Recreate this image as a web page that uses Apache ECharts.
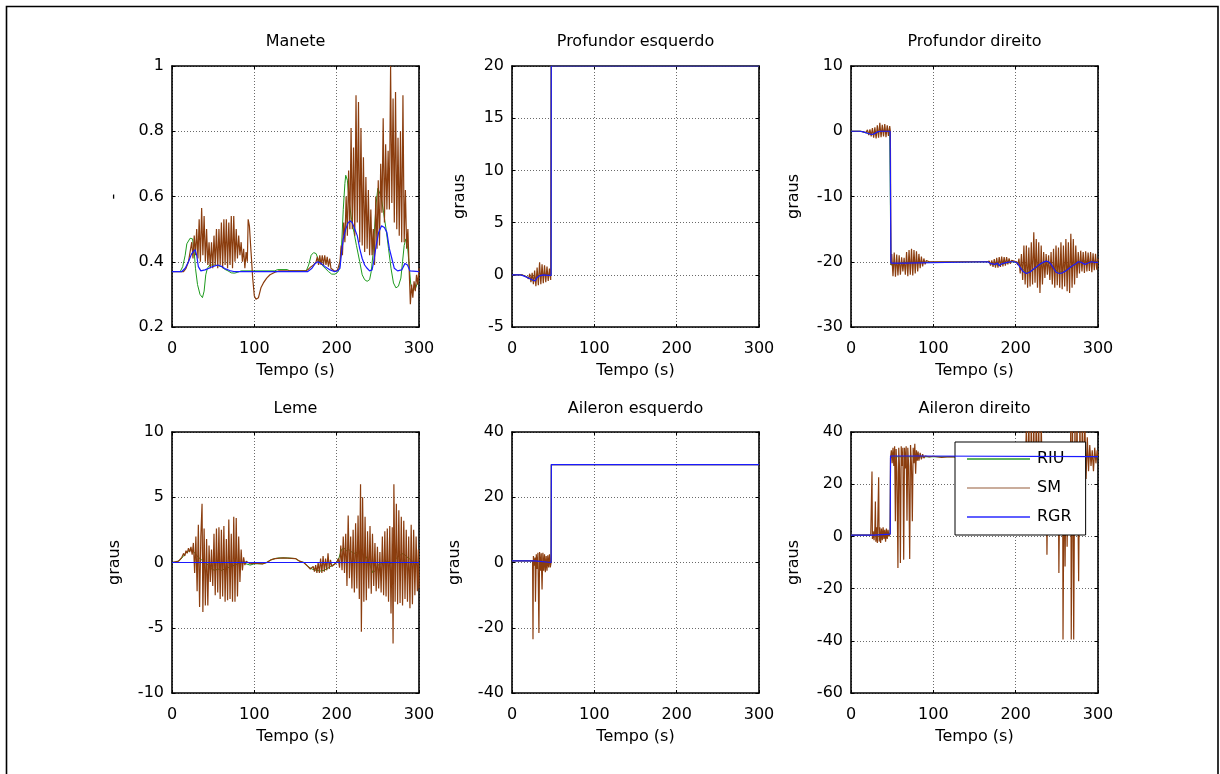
<!DOCTYPE html>
<html><head><meta charset="utf-8">
<script src="https://cdn.jsdelivr.net/npm/echarts@6/dist/echarts.min.js"></script>
<style>html,body{margin:0;padding:0;background:#fff}#c{width:1220px;height:774px}</style>
</head><body><div id="c"></div>
<script>
// ---------------- DATA (time in s, value) ----------------
const titles = ['Manete', 'Profundor esquerdo', 'Profundor direito', 'Leme', 'Aileron esquerdo', 'Aileron direito'];
const yNames = ['-', 'graus', 'graus', 'graus', 'graus', 'graus'];
const yMins = [0.2, -5, -30, -10, -40, -60];
const yMaxs = [1, 20, 10, 10, 40, 40];
const yIntervals = [0.2, 5, 10, 5, 20, 20];
const xMin = 0, xMax = 300, xInterval = 100;
const xName = 'Tempo (s)';
const seriesNames = ['RIU', 'SM', 'RGR'];

const maneteRIU = [[0,0.37],[10,0.37],[13,0.385],[16,0.42],[18,0.455],[22,0.472],[25,0.47],[27,0.43],[28.5,0.38],[31,0.33],[34,0.3],[37,0.29],[39,0.31],[41,0.36],[43,0.38],[46,0.39],[52,0.39],[56,0.388],[60,0.385],[64,0.377],[68,0.372],[72,0.366],[76,0.365],[80,0.368],[84,0.372],[125,0.372],[128,0.376],[140,0.376],[143,0.372],[163,0.372],[166,0.39],[169,0.42],[172,0.428],[175,0.425],[178,0.405],[182,0.39],[186,0.38],[190,0.37],[194,0.362],[198,0.362],[202,0.37],[204,0.39],[206,0.45],[208,0.56],[210,0.64],[211,0.665],[213,0.65],[215,0.59],[218,0.53],[221,0.49],[224,0.45],[228,0.4],[231,0.36],[234,0.345],[237,0.34],[240,0.345],[242,0.37],[244,0.42],[246,0.5],[248,0.58],[250,0.625],[252,0.63],[254,0.6],[257,0.55],[260,0.5],[263,0.44],[266,0.38],[269,0.335],[272,0.32],[275,0.325],[278,0.35],[280,0.4],[282,0.45],[284,0.47],[286,0.45],[288,0.39],[290,0.33],[292,0.31],[294,0.305],[296,0.32],[298,0.335],[300,0.34]];
const maneteSM = [[0,0.37],[14,0.37],[17,0.38],[20,0.4],[22,0.43],[24,0.46],[25.5,0.41],[27,0.48],[28.5,0.42],[30,0.5],[31.5,0.41],[33,0.53],[34.5,0.4],[36,0.565],[37.5,0.42],[39,0.54],[40.5,0.4],[42,0.5],[43.5,0.39],[45,0.46],[46.5,0.38],[48,0.46],[49.5,0.38],[51,0.48],[52.5,0.39],[54,0.5],[55.5,0.38],[57,0.5],[58.5,0.39],[60,0.52],[61.5,0.38],[63,0.53],[64.5,0.39],[66,0.53],[67.5,0.38],[69,0.52],[70.5,0.39],[72,0.54],[73.5,0.38],[75,0.54],[76.5,0.4],[78,0.5],[79.5,0.41],[81,0.48],[82.5,0.42],[84,0.46],[85.5,0.4],[87,0.44],[88.5,0.38],[90,0.43],[91.5,0.4],[92.5,0.53],[94,0.51],[96,0.43],[98,0.35],[100,0.295],[102,0.285],[105,0.29],[108,0.32],[111,0.335],[115,0.35],[119,0.36],[125,0.368],[130,0.372],[163,0.372],[166,0.378],[169,0.385],[172,0.39],[175,0.4],[176.5,0.415],[178,0.39],[179.5,0.42],[181,0.39],[182.5,0.42],[184,0.39],[185.5,0.42],[187,0.39],[188.5,0.415],[190,0.385],[191.5,0.41],[193,0.38],[195,0.375],[198,0.37],[201,0.375],[203,0.38],[204,0.4],[205.5,0.45],[207,0.42],[208.5,0.52],[210,0.46],[211.5,0.6],[213,0.48],[214.5,0.68],[216,0.5],[217.5,0.81],[219,0.5],[220.5,0.75],[222,0.48],[223.5,0.91],[225,0.52],[226.5,0.89],[228,0.46],[229.5,0.81],[231,0.45],[232.5,0.72],[234,0.43],[235.5,0.66],[237,0.44],[238.5,0.62],[240,0.42],[241.5,0.56],[243,0.42],[244.5,0.5],[246,0.39],[247.5,0.6],[249,0.44],[250.5,0.65],[252,0.45],[253.5,0.7],[255,0.55],[256.5,0.84],[258,0.52],[259.5,0.76],[261,0.56],[262.5,0.74],[264,0.56],[265.5,1.0],[267,0.58],[268.5,0.9],[270,0.52],[271.5,0.92],[273,0.5],[274.5,0.78],[276,0.48],[277.5,0.8],[279,0.46],[280.5,0.91],[282,0.46],[283.5,0.62],[285,0.44],[286.5,0.5],[288,0.38],[289.5,0.27],[291,0.33],[292.5,0.29],[294,0.34],[295.5,0.31],[297,0.36],[298.5,0.33],[300,0.38]];
const maneteRGR = [[0,0.37],[12,0.37],[16,0.38],[20,0.4],[24,0.425],[28,0.437],[30,0.42],[32,0.385],[35,0.372],[40,0.375],[45,0.38],[50,0.386],[56,0.39],[60,0.386],[65,0.378],[70,0.373],[75,0.37],[165,0.37],[170,0.38],[174,0.395],[177,0.4],[181,0.395],[186,0.385],[192,0.375],[197,0.37],[201,0.372],[204,0.38],[206,0.43],[208,0.47],[211,0.5],[214,0.52],[216.5,0.525],[219,0.52],[222,0.5],[225,0.48],[228,0.44],[231,0.41],[234,0.39],[237,0.38],[240,0.372],[243,0.375],[245,0.4],[248,0.45],[251,0.49],[254.5,0.51],[258,0.505],[261,0.49],[264,0.44],[267,0.41],[270,0.38],[274,0.372],[279,0.375],[283,0.395],[286,0.39],[289,0.372],[300,0.37]];

const profEsqRIU = [[0,0],[12,0],[18,-0.2],[24,-0.5],[28,-0.55],[31,-0.2],[35,0],[44,0],[47.5,0],[47.6,20],[300,20]];
const profEsqSM = [[0,0],[12,0],[18,-0.2],[20,-0.4],[21.5,0.1],[23,-0.7],[24.5,0.2],[26,-0.9],[27.5,0.4],[29,-1.1],[30.5,0.7],[32,-1.0],[33.5,1.2],[35,-0.9],[36.5,1.0],[38,-0.8],[39.5,0.9],[41,-0.7],[42.5,0.8],[44,-0.6],[45.5,0.6],[47,-0.5],[47.6,20],[300,20]];
const profEsqRGR = [[0,0],[10,0],[14,-0.1],[20,-0.3],[25,-0.5],[28,-0.6],[30,-0.3],[33,-0.1],[38,0],[44,-0.05],[47.5,-0.05],[47.7,20],[300,20]];

const profDirRIU = [[0,0],[12,0],[20,-0.3],[26,-0.5],[30,-0.3],[35,0],[47,0],[48.5,-20.5],[50,-20.3],[64,-20.1],[166,-20],[172,-20.4],[180,-20.5],[188,-20.2],[196,-20],[202,-20.1],[207,-21],[213,-21.6],[218,-21.5],[224,-21],[230,-20.5],[237,-20],[241,-20.2],[246,-21],[252,-21.6],[258,-21.5],[264,-21],[270,-20.5],[276,-20.1],[282,-19.8],[288,-20.1],[294,-19.9],[300,-20]];
const profDirSM = [[0,0],[12,0],[18,-0.2],[20,0.2],[21.5,-0.6],[23,0.3],[24.5,-0.8],[26,0.5],[27.5,-1.0],[29,0.6],[30.5,-1.1],[32,0.9],[33.5,-1.0],[35,1.3],[36.5,-0.9],[38,1.0],[39.5,-0.8],[41,1.1],[42.5,-0.9],[44,0.9],[45.5,-0.7],[47,0.8],[47.8,0],[48.6,-20.5],[49.5,-18.8],[51,-22.2],[52.5,-18.6],[54,-22.3],[55.5,-18.9],[57,-22.1],[58.5,-19],[60,-22],[61.5,-19.3],[63,-21.5],[64.5,-19.4],[66,-22],[67.5,-18.5],[69,-22.2],[70.5,-18.2],[72,-22],[73.5,-18],[75,-22.1],[76.5,-18.2],[78,-21.8],[79.5,-18.4],[81,-21.5],[82.5,-18.8],[84,-21],[85.5,-19.2],[87,-20.7],[88.5,-19.5],[90,-20.4],[91.5,-19.8],[93,-20.1],[95,-20],[165,-20],[166.5,-20.3],[168,-19.9],[169.5,-20.6],[171,-19.8],[172.5,-20.8],[174,-19.6],[175.5,-20.9],[177,-19.4],[178.5,-20.9],[180,-19.3],[181.5,-20.8],[183,-19.2],[184.5,-20.7],[186,-19.3],[187.5,-20.6],[189,-19.3],[190.5,-20.4],[192,-19.5],[193.5,-20.3],[195,-19.8],[197,-20],[201,-20],[202.5,-20.5],[204,-19.5],[205.5,-21.8],[207,-18.8],[208.5,-22.8],[210,-17.5],[211.5,-23.5],[213,-17.5],[214.5,-24],[216,-17.8],[217.5,-23.8],[219,-17],[220.5,-23.5],[222,-15.5],[223.5,-23.2],[225,-16.5],[226.5,-24],[228,-17],[229.5,-24.8],[231,-17.5],[232.5,-23.5],[234,-18.5],[235.5,-22.5],[237,-18.8],[238.5,-22],[240,-19],[241.5,-22.8],[243,-18.5],[244.5,-23.5],[246,-18],[247.5,-24],[249,-17.5],[250.5,-23.6],[252,-17.8],[253.5,-24],[255,-17],[256.5,-24.2],[258,-17.5],[259.5,-23.8],[261,-16.5],[262.5,-24.5],[264,-17],[265.5,-24.8],[267,-15.7],[268.5,-24],[270,-16.5],[271.5,-23.5],[273,-17.5],[274.5,-22.5],[276,-18.5],[277.5,-21.8],[279,-18.3],[280.5,-21.5],[282,-18.5],[283.5,-21.7],[285,-18.4],[286.5,-21.5],[288,-18.6],[289.5,-21.4],[291,-18.5],[292.5,-21.6],[294,-18.7],[295.5,-21.3],[297,-18.8],[298.5,-21.2],[300,-19.5]];
const profDirRGR = [[0,0],[10,0],[15,-0.1],[20,-0.3],[25,-0.5],[28,-0.4],[32,-0.1],[36,0],[47.5,0],[48.5,-20.2],[64,-20.2],[65,-20],[166,-20],[170,-20.3],[175,-20.4],[178,-20.2],[180,-20.6],[183,-20.3],[186,-20.2],[190,-20.1],[194,-20],[198,-20],[202,-20.2],[205,-20.8],[209,-21.5],[213,-21.8],[217,-21.6],[221,-21.2],[225,-20.8],[229,-20.4],[233,-20.1],[237,-19.9],[240,-20],[243,-20.4],[246,-21],[249,-21.6],[253,-21.8],[257,-21.7],[261,-21.4],[265,-21],[269,-20.6],[273,-20.3],[276,-20],[280,-20.1],[284,-20.4],[288,-20.2],[292,-20],[296,-20.1],[300,-20.1]];

const lemeRIU = [[0,0],[6,0.05],[10,0.2],[14,0.5],[18,0.8],[22,0.95],[25,0.9],[28,0.7],[32,0.4],[36,0.2],[40,0],[44,-0.2],[48,-0.5],[52,-0.6],[56,-0.5],[60,-0.6],[64,-0.5],[68,-0.4],[72,-0.3],[76,-0.2],[80,-0.1],[85,0],[90,-0.1],[95,-0.2],[100,-0.1],[110,-0.1],[115,0],[120,0.2],[125,0.3],[130,0.35],[140,0.35],[150,0.3],[155,0.1],[160,0],[165,-0.3],[170,-0.5],[175,-0.6],[180,-0.65],[185,-0.6],[190,-0.4],[195,-0.2],[200,0],[203,0.4],[206,1.0],[209,1.1],[212,0.9],[215,1.0],[218,0.8],[222,0.7],[226,0.8],[230,0.7],[234,0.6],[238,0.2],[241,-0.3],[244,-0.8],[247,-0.6],[250,-0.2],[254,-0.1],[258,0],[262,0.1],[266,-0.1],[270,0.2],[274,0.4],[278,0.6],[281,0.7],[284,0.5],[288,0.3],[292,0.1],[296,0],[300,0]];
const lemeSM = [[0,0],[8,0.1],[12,0.4],[14,0.7],[15.5,0.5],[17,0.9],[18.5,0.7],[20,1.1],[21.5,0.8],[23,1.2],[24.5,0.6],[26,1.5],[27.5,-0.8],[29,2.0],[30.5,-2.2],[32,2.9],[33.5,-3.4],[35,2.0],[36.5,4.5],[37.5,-3.8],[39,2.6],[40.5,-3.3],[42,1.8],[43.5,-3.3],[45,1.3],[46.5,-1.5],[48,1.0],[49.5,-1.8],[51,2.2],[52.5,-2.5],[54,2.6],[55.5,-2.3],[57,2.7],[58.5,-2.8],[60,2.5],[61.5,-2.6],[63,2.8],[64.5,-3.0],[66,1.8],[67.5,-2.9],[69,3.3],[70.5,-2.8],[72,2.2],[73.5,-3.0],[75,3.5],[76.5,-3.0],[78,3.4],[79.5,-2.6],[81,2.0],[82.5,-1.5],[84,1.0],[85.5,-0.6],[87,0.4],[88.5,-0.2],[90,0.1],[95,-0.1],[100,-0.05],[110,-0.1],[115,0],[120,0.2],[125,0.3],[135,0.35],[150,0.3],[155,0.1],[160,0],[165,-0.3],[168,-0.5],[170,-0.6],[171.5,-0.3],[173,-0.7],[174.5,-0.2],[176,-0.8],[177.5,0],[179,-0.8],[180.5,0.3],[182,-0.8],[183.5,0.5],[185,-0.7],[186.5,0.3],[188,-0.6],[189.5,0.7],[191,-0.5],[192.5,0.2],[194,-0.3],[196,-0.2],[200,0],[202,0.3],[203.5,-0.4],[205,1.3],[206.5,-0.6],[208,2.0],[209.5,-0.8],[211,2.2],[212.5,-1.8],[214,3.6],[215.5,-1.2],[217,2.0],[218.5,-2.0],[220,2.5],[221.5,-2.3],[223,3.0],[224.5,-2.0],[226,3.6],[227.5,-2.8],[229,6.0],[230,-5.3],[231.5,5.0],[233,-3.0],[234.5,3.5],[236,-2.9],[237.5,2.4],[239,-2.0],[240.5,2.8],[242,-2.4],[243.5,2.2],[245,-1.8],[246.5,1.5],[248,-2.2],[249.5,1.2],[251,-2.0],[252.5,0.8],[254,-2.3],[255.5,2.0],[257,-2.5],[258.5,2.4],[260,-2.6],[261.5,2.6],[263,-3.0],[264.5,2.8],[266,-3.9],[267.5,2.7],[268.5,-6.2],[269.5,6.0],[271,-3.0],[272.5,4.5],[274,-3.2],[275.5,4.0],[277,-3.1],[278.5,3.5],[280,-3.3],[281.5,3.2],[283,-2.8],[284.5,2.5],[286,-3.0],[287.5,2.0],[289,-3.5],[290.5,2.9],[292,-3.2],[293.5,2.5],[295,-2.5],[296.5,2.0],[298,-2.2],[299.2,1.0],[300,-2.0]];
const lemeRGR = [[0,0],[300,0]];

const ailEsqRIU = [[0,0.5],[28,0.5],[28.5,0],[47.5,0],[47.8,30],[300,30]];
const ailEsqSM = [[0,0.5],[25,0.5],[25.5,-23.5],[26,2],[27,-1],[28,1.5],[28.5,-12],[29.5,2.5],[30.5,-2],[31.5,3],[32.7,-21.6],[33.5,3.2],[34.5,-2.5],[35.5,2.8],[36.5,-8.3],[37.5,3],[38.5,-2.5],[39.5,2.5],[40.5,-3],[41.5,2],[42.5,-2.5],[43.5,2.2],[44.5,-1.5],[45.5,2.5],[46.5,-1.5],[47.5,0],[47.8,30],[300,30]];
const ailEsqRGR = [[0,0.5],[27.5,0.5],[28,0],[47.5,0],[47.8,30],[300,30]];

const ailDirRIU = [[0,0.5],[28,0.5],[28.5,1],[47.6,1],[48,30.5],[300,30.5]];
const ailDirSM = [[0,0.5],[24,0.5],[25,1],[25.5,24.9],[26,-1],[27,2],[28,-1.5],[29,3],[29.6,13.4],[30.2,-2],[31,3.5],[32,-2.5],[33.6,22.7],[34.2,-2],[35,3.5],[36,-2.5],[37,3],[38,-1.5],[39,3.5],[40,-1],[41,2.5],[42,-2],[43,3],[44,-1],[45,2.5],[46,0],[47.5,1],[48,30],[49,33],[50,28],[51,34],[52,27],[53,34.5],[53.9,5.8],[54.8,33.5],[55.8,25],[57,-12.1],[58,34],[59,26],[60,-10.2],[61,34.5],[62,27],[63,34],[64,-8.9],[65,34],[66,26],[67,34.5],[68,6],[69,34],[70,27],[71.3,-8.7],[72.3,35],[73.5,27],[74.5,5.8],[75.5,34],[76.5,28],[77.5,35.5],[78.5,24],[79.5,33],[80.5,29],[81.5,32.5],[82.5,29],[84,32],[85.5,29.5],[87,31.5],[88.5,30],[90,30.8],[95,30.5],[100,30.7],[110,30.3],[120,30.6],[130,30.4],[200,30.5],[205,31],[208,29],[210,33],[211.5,24],[213,42],[214.5,18],[216,45],[217.5,5],[219,46],[220.5,12],[222,44],[223.5,8],[225,48],[226.5,15],[228,45],[229.5,3],[231,44],[232.5,20],[234,35],[235.5,10],[237,34],[238,-7],[239.5,33],[241,18],[242.5,35],[244,12],[245.5,34],[247,2],[248.5,33],[250,15],[251.5,35],[252.5,-14],[254,34],[255.5,8],[257,33],[257.5,-39.5],[259,35],[260,-11.5],[261.5,34],[262.5,-4],[264,36],[265.5,5],[267,44],[267.5,-39.5],[269,46],[270.5,-39.5],[272,45],[273,5],[274.5,47],[276.5,-17.2],[278,45],[279.5,10],[281,46],[282.5,18],[284,44],[285.5,22],[287,38],[288.5,25],[290,35],[291.5,27],[293,33],[294.5,25],[296,34],[297.5,28],[299,33],[300,31]];
const ailDirRGR = [[0,0.5],[28,0.5],[28.5,0.9],[47.6,0.9],[48,30.8],[80,30.8],[81,30.5],[300,30.6]];

const riuData = [maneteRIU, profEsqRIU, profDirRIU, lemeRIU, ailEsqRIU, ailDirRIU];
const smData = [maneteSM, profEsqSM, profDirSM, lemeSM, ailEsqSM, ailDirSM];
const rgrData = [maneteRGR, profEsqRGR, profDirRGR, lemeRGR, ailEsqRGR, ailDirRGR];

// ---------------- LAYOUT / STYLE ----------------
const FONT = "'DejaVu Sans', 'Liberation Sans', Arial, sans-serif";
const COLORS = ['#1e9b1e', '#8b3d0e', '#1a1aff'];
const LEGEND_COLORS = ['#2a9a2a', '#b9927b', '#2a2aff'];
const gridLefts = [172, 512, 851];
const gridTops = [66, 432];
const GW = 247, GH = 261;
const yNameGaps = [50, 44, 49, 49, 49, 49];

const grids = [], xAxes = [], yAxes = [], series = [], graphics = [];
const axisLine = {show: true, onZero: false, lineStyle: {color: '#000', width: 1.6}};
const tick = {show: true, inside: true, length: 3, lineStyle: {color: '#000', width: 1}};
const split = {show: true, lineStyle: {color: '#6a6a6a', width: 1, type: [1, 2]}};
const lbl = {color: '#000', fontSize: 16, fontFamily: FONT};

for (let i = 0; i < 6; i++) {
  const col = i % 3, row = Math.floor(i / 3);
  const left = gridLefts[col], top = gridTops[row];
  grids.push({left: left, top: top, width: GW, height: GH, containLabel: false, outerBoundsMode: 'none', show: false});
  xAxes.push({gridIndex: i, type: 'value', position: 'bottom', min: xMin, max: xMax, interval: xInterval,
    axisLine: axisLine, axisTick: tick, splitLine: split,
    axisLabel: Object.assign({margin: 14, showMinLabel: true, showMaxLabel: true, hideOverlap: false}, lbl),
    name: xName, nameLocation: 'middle', nameGap: 36, nameMoveOverlap: false, nameTextStyle: lbl});
  xAxes.push({gridIndex: i, type: 'value', position: 'top', min: xMin, max: xMax, interval: xInterval,
    axisLine: axisLine, axisTick: tick, splitLine: {show: false}, axisLabel: {show: false}});
  yAxes.push({gridIndex: i, type: 'value', position: 'left', min: yMins[i], max: yMaxs[i], interval: yIntervals[i],
    axisLine: axisLine, axisTick: tick, splitLine: split,
    axisLabel: Object.assign({margin: 8, showMinLabel: true, showMaxLabel: true, hideOverlap: false}, lbl),
    name: yNames[i], nameLocation: 'middle', nameRotate: 90, nameGap: yNameGaps[i], nameMoveOverlap: false, nameTextStyle: lbl});
  yAxes.push({gridIndex: i, type: 'value', position: 'right', min: yMins[i], max: yMaxs[i], interval: yIntervals[i],
    axisLine: axisLine, axisTick: tick, splitLine: {show: false}, axisLabel: {show: false}});
  const sets = [riuData[i], smData[i], rgrData[i]];
  for (let k = 0; k < 3; k++) {
    series.push({type: 'line', name: seriesNames[k], xAxisIndex: 2 * i, yAxisIndex: 2 * i,
      data: sets[k], symbol: 'none', showSymbol: false, clip: true, silent: true, animation: false,
      z: 2 + k, lineStyle: {color: COLORS[k], width: k === 0 ? 1 : 1.2}, itemStyle: {color: COLORS[k]},
      emphasis: {disabled: true}});
  }
  graphics.push({type: 'text', x: left + GW / 2, y: row === 0 ? 42 : 409,
    style: {text: titles[i], fill: '#000', font: '16px ' + FONT, textAlign: 'center', textVerticalAlign: 'middle'}});
}
graphics.push({type: 'rect', shape: {x: 6.5, y: 6.5, width: 1211.5, height: 820},
  style: {fill: null, stroke: '#000', lineWidth: 1.6}, z: 100});

const chart = echarts.init(document.getElementById('c'), null, {renderer: 'canvas'});
chart.setOption({
  animation: false,
  backgroundColor: '#fff',
  tooltip: {show: false},
  grid: grids, xAxis: xAxes, yAxis: yAxes, series: series,
  legend: {orient: 'vertical', left: 955, top: 442, selectedMode: false, icon: 'rect',
    itemWidth: 63, itemHeight: 1.5, itemGap: 13, padding: [9, 14, 10, 12],
    backgroundColor: '#fff', borderColor: '#000', borderWidth: 1,
    textStyle: {color: '#000', fontSize: 16, fontFamily: FONT, padding: [0, 0, 0, 2]},
    data: seriesNames.map((n, k) => ({name: n, itemStyle: {color: LEGEND_COLORS[k], borderWidth: 0}}))},
  graphic: graphics
});
</script></body></html>
